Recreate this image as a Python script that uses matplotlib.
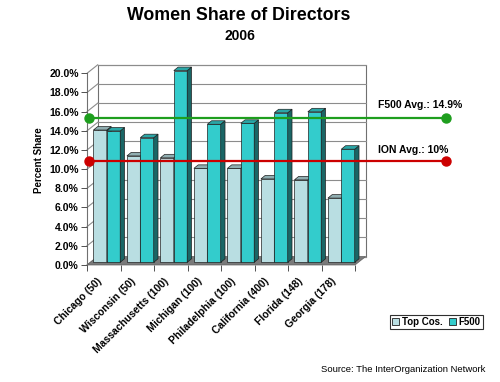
import matplotlib
matplotlib.use("Agg")
import matplotlib.pyplot as plt
from matplotlib.patches import Polygon, Rectangle, Patch
from matplotlib.transforms import Affine2D, IdentityTransform

plt.rcParams['font.family'] = ['Liberation Sans', 'DejaVu Sans']

# data
categories = ['Chicago (50)', 'Wisconsin (50)', 'Massachusetts (100)', 'Michigan (100)',
              'Philadelphia (100)', 'California (400)', 'Florida (148)', 'Georgia (178)']
top_cos = [13.8, 11.1, 10.9, 9.8, 9.8, 8.7, 8.6, 6.7]
f500 = [13.7, 13.0, 20.0, 14.4, 14.5, 15.6, 15.7, 11.8]
yticks = [0, 2, 4, 6, 8, 10, 12, 14, 16, 18, 20]
avg_labels = ['F500 Avg.: 14.9%', 'ION Avg.: 10%']
avg_levels = [15.35, 10.9]     # where the lines sit on the value axis
avg_colors = ['#1E9E1E', '#CC0000']

# colours
top_face = ['#B9DEE2', '#90AEB1', '#7A9598']   # front, top, side
f5_face = ['#33CCCC', '#2AA6A6', '#1A6666']
floor_col = '#7A7A7A'
grid_col = '#8C8C8C'

fig = plt.figure(figsize=(5.0, 3.82), dpi=100)
W, H = 500, 382
ax = fig.add_axes([87 / W, 117 / H, 268 / W, 191.7 / H])
ax.set_xlim(0, len(categories))
ax.set_ylim(0, 20)
ax.patch.set_visible(False)
for s in ax.spines.values():
    s.set_visible(False)

wall_dx, wall_dy = 10.7, 8.5     # depth of the walls, pixels
bar_dx, bar_dy = 3.4, 2.7        # bars sit a little behind the front plane
bd_x, bd_y = 4.3, 3.5            # bar depth
bar_w = 0.4
bar_start = 0.09


def disp(x, y, dx=0.0, dy=0.0):
    px, py = ax.transData.transform((x, y))
    return (px + dx, py + dy)


def poly(verts, fc, ec='#202020', lw=0.5, z=1):
    ax.add_patch(Polygon(verts, closed=True, facecolor=fc, edgecolor=ec, linewidth=lw,
                         transform=IdentityTransform(), clip_on=False, zorder=z))


n = len(categories)
back = ax.transData + Affine2D().translate(wall_dx, wall_dy)

# back wall
ax.add_patch(Rectangle((0, 0), n, 20, facecolor='white', edgecolor='#707070', lw=0.8,
                       transform=back, clip_on=False, zorder=0.5))
for y in yticks:
    ax.plot([0, n], [y, y], color=grid_col, lw=0.8, transform=back, clip_on=False, zorder=0.6)
    # left wall diagonals
    ax.plot(*zip(disp(0, y), disp(0, y, wall_dx, wall_dy)), color=grid_col, lw=0.8,
            transform=IdentityTransform(), clip_on=False, zorder=0.6)

# floor
poly([disp(0, 0), disp(n, 0), disp(n, 0, wall_dx, wall_dy), disp(0, 0, wall_dx, wall_dy)],
     floor_col, ec='#606060', z=0.7)

# front value axis line
ax.plot([0, 0], [0, 20], color='#707070', lw=0.8, clip_on=False, zorder=0.8)


def bar3d(x0, h, faces, z):
    fr, tp, sd = faces
    x1 = x0 + bar_w
    a = disp(x0, 0, bar_dx, bar_dy)
    b = disp(x1, 0, bar_dx, bar_dy)
    c = disp(x1, h, bar_dx, bar_dy)
    d = disp(x0, h, bar_dx, bar_dy)
    poly([a, b, c, d], fr, z=z)
    poly([b, (b[0] + bd_x, b[1] + bd_y), (c[0] + bd_x, c[1] + bd_y), c], sd, z=z)
    poly([d, c, (c[0] + bd_x, c[1] + bd_y), (d[0] + bd_x, d[1] + bd_y)], tp, z=z)


for i in range(n):
    bar3d(i + bar_start, top_cos[i], top_face, 2 + 2 * i)
    bar3d(i + bar_start + bar_w, f500[i], f5_face, 3 + 2 * i)

# average lines
for lvl, col in zip(avg_levels, avg_colors):
    ax.plot([0.06, 10.72], [lvl, lvl], color=col, lw=1.6, clip_on=False, zorder=40,
            marker='o', markersize=6.5, markevery=[0, 1])
fig.text(378 / W, 1 - 105 / H, avg_labels[0], fontsize=7.5, fontweight='bold', va='center')
fig.text(378 / W, 1 - 150 / H, avg_labels[1], fontsize=7.5, fontweight='bold', va='center')

# axes ticks
ax.set_yticks(yticks)
ax.set_yticklabels([f'{v:.1f}%' for v in yticks], fontsize=7.5, fontweight='bold')
ax.tick_params(axis='y', length=4, width=0.7, color='#505050', pad=2)
ax.set_xticks(range(n + 1))
ax.set_xticklabels([])
ax.tick_params(axis='x', which='major', length=4, width=0.7, color='#505050')
ax.set_xticks([i + 0.5 for i in range(n)], minor=True)
ax.set_xticklabels(categories, minor=True, rotation=45, ha='right', fontsize=7.5,
                   fontweight='bold')
ax.tick_params(axis='x', which='minor', length=0, pad=8)

fig.text(39 / W, 1 - 160 / H, 'Percent Share', rotation=90, fontsize=7, fontweight='bold',
         ha='center', va='center')

# titles
fig.text(239 / W, 1 - 15 / H, 'Women Share of Directors', fontsize=12.8, fontweight='bold',
         ha='center', va='center')
fig.text(240 / W, 1 - 36 / H, '2006', fontsize=10, fontweight='bold', ha='center', va='center')

# legend
handles = [Patch(facecolor=top_face[0], edgecolor='#202020', lw=0.6, label='Top Cos.'),
           Patch(facecolor=f5_face[0], edgecolor='#202020', lw=0.6, label='F500')]
leg = fig.legend(handles=handles, loc='center', bbox_to_anchor=(436.5 / W, 1 - 322 / H),
                 ncol=2, prop={'weight': 'bold', 'size': 7},
                 handlelength=0.7, handleheight=0.7, columnspacing=0.6, handletextpad=0.3,
                 borderpad=0.25, fancybox=False, framealpha=1)
leg.get_frame().set_edgecolor('#303030')
leg.get_frame().set_linewidth(0.8)

fig.text(485.7 / W, 1 - 369 / H, 'Source: The InterOrganization Network', fontsize=6.8,
         ha='right', va='center')

fig.savefig('out.png', dpi=100)
